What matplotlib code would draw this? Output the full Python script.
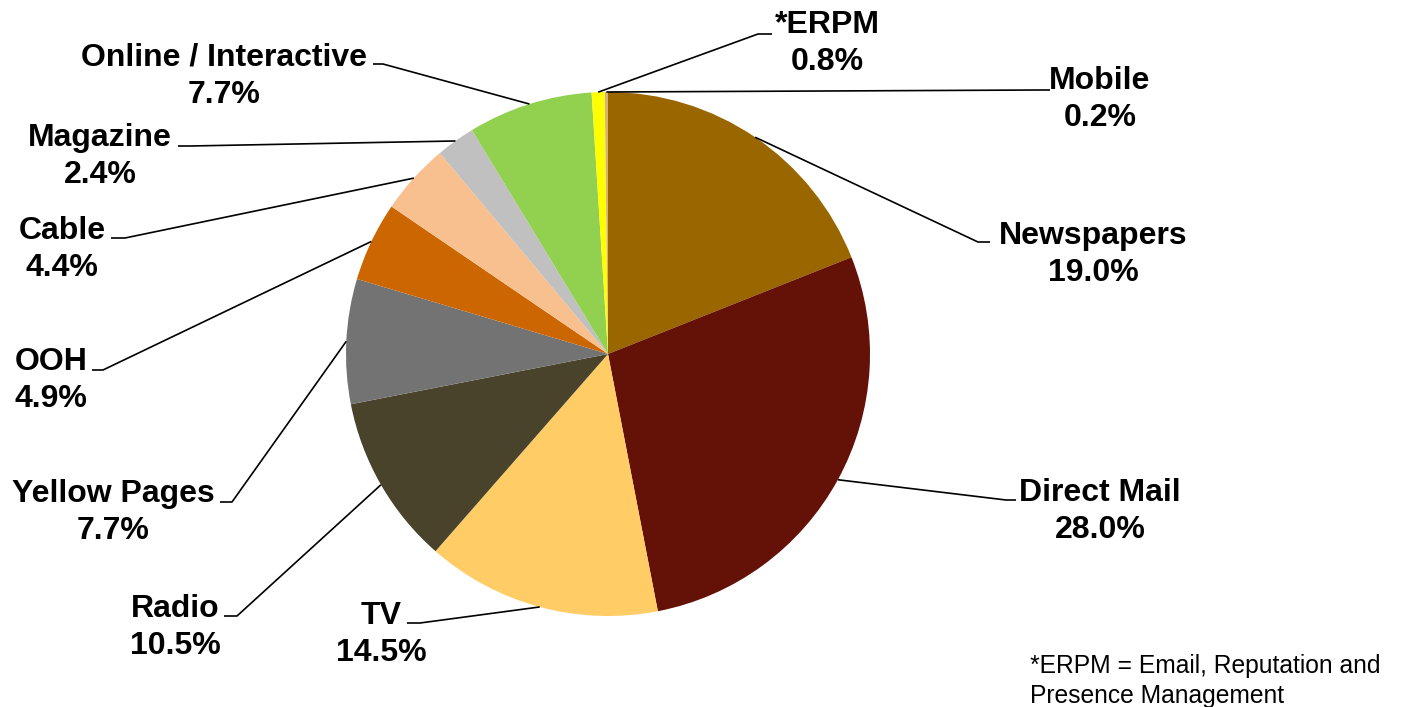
import numpy as np
import matplotlib
matplotlib.use("Agg")
import matplotlib.pyplot as plt

# Advertising spend share by media
categories = ["Newspapers", "Direct Mail", "TV", "Radio", "Yellow Pages", "OOH",
              "Cable", "Magazine", "Online / Interactive", "*ERPM", "Mobile"]
shares = [19.0, 28.0, 14.5, 10.5, 7.7, 4.9, 4.4, 2.4, 7.7, 0.8, 0.2]
colors = ["#996600", "#641107", "#FFCC66", "#4A432B", "#737373", "#CC6600",
          "#F9C08F", "#C0C0C0", "#92D050", "#FFFF00", "#D9B274"]
footnote_lines = ["*ERPM = Email, Reputation and", "Presence Management"]

W, H = 1422, 707
fig = plt.figure(figsize=(W / 100, H / 100), dpi=100)
ax = fig.add_axes([0, 0, 1, 1])

cx, cy, r = 608, H - 354, 262
wedges, _ = ax.pie(shares, colors=colors, startangle=90, counterclock=False,
                   center=(cx, cy), radius=r, frame=True,
                   wedgeprops=dict(linewidth=0))

# label layout in pixel coords (y from top): elbow, line end, text x, name baseline
layout = {
    "Newspapers":           ((978, 242), (990, 242), 1093, 244),
    "Direct Mail":          ((1006, 500), (1016, 500), 1100, 501),
    "TV":                   ((420, 623), (407, 623), 381, 624),
    "Radio":                ((237, 616), (224, 616), 175, 617),
    "Yellow Pages":         ((232, 502), (220, 502), 113, 502),
    "OOH":                  ((103, 370), (92, 370), 51, 370),
    "Cable":                ((125, 238), (111, 238), 62, 239),
    "Magazine":             ((190, 146), (178, 146), 100, 146),
    "Online / Interactive": ((383, 64), (373, 64), 224, 66),
    "*ERPM":                ((758, 34), (772, 34), 827, 33),
    "Mobile":               ((1040, 90), (1050, 90), 1100, 89),
}
line_gap = 37

for w, name, val in zip(wedges, categories, shares):
    mid = np.deg2rad((w.theta1 + w.theta2) / 2)
    px, py = cx + r * np.cos(mid), cy + r * np.sin(mid)
    (ex, ey), (lx, ly), tx, ty = layout[name]
    ax.plot([px, ex, lx], [py, H - ey, H - ly], color="black", lw=1.2,
            solid_capstyle="butt", zorder=3)
    for k, s in enumerate([name, f"{val:.1f}%"]):
        ax.text(tx, H - (ty + k * line_gap), s, ha="center", va="baseline",
                fontsize=23, fontweight="bold", family="Liberation Sans",
                color="black")

for k, s in enumerate(footnote_lines):
    ax.text(1030, H - (673 + k * 30), s, ha="left", va="baseline",
            fontsize=17.7, family="Liberation Sans", color="black")

ax.set_xlim(0, W)
ax.set_ylim(0, H)
ax.axis("off")
fig.savefig("out.png", dpi=100)
